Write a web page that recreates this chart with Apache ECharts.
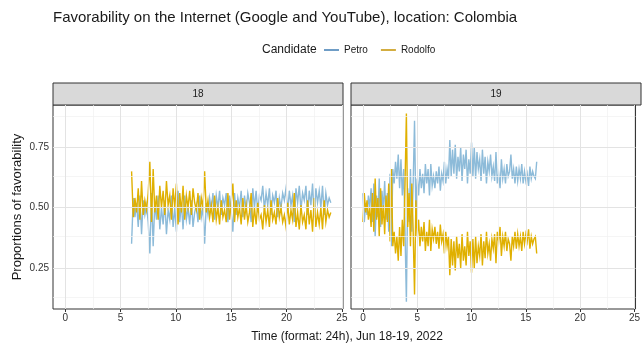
<!DOCTYPE html>
<html>
<head>
<meta charset="utf-8">
<script src="https://cdn.jsdelivr.net/npm/echarts@6/dist/echarts.min.js"></script>
<style>
html,body{margin:0;padding:0;background:#fff;}
#chart{width:643px;height:346px;}
</style>
</head>
<body>
<div id="chart"></div>
<script>
// ---- data ----
const panels = ['18', '19'];
const seriesNames = ['Petro', 'Rodolfo'];
const xTicks = [0, 5, 10, 15, 20, 25];
const xMinor = [2.5, 7.5, 12.5, 17.5, 22.5];
const yTicks = [0.25, 0.5, 0.75];
const yMinor = [0.125, 0.375, 0.625, 0.875];

// Jun 18: readings from 06:00 to 24:00 every 0.15 h
const start18 = 6, step18 = 0.15;
const petro18 = [
0.35,0.54,0.46,0.52,0.42,0.55,0.39,0.53,0.47,0.51,
0.44,0.31,0.56,0.34,0.52,0.45,0.55,0.41,0.50,0.43,
0.53,0.39,0.49,0.45,0.55,0.42,0.50,0.40,0.57,0.44,
0.52,0.41,0.55,0.45,0.50,0.43,0.53,0.42,0.48,0.51,
0.44,0.55,0.46,0.50,0.35,0.52,0.47,0.54,0.49,0.56,
0.45,0.55,0.50,0.57,0.47,0.54,0.51,0.56,0.44,0.55,
0.48,0.40,0.56,0.47,0.54,0.50,0.57,0.46,0.55,0.49,
0.56,0.52,0.44,0.58,0.50,0.57,0.48,0.55,0.53,0.59,
0.49,0.56,0.51,0.58,0.47,0.55,0.52,0.57,0.46,0.54,
0.50,0.56,0.53,0.58,0.48,0.57,0.51,0.55,0.44,0.58,
0.52,0.59,0.49,0.56,0.53,0.59,0.47,0.57,0.51,0.60,
0.46,0.58,0.52,0.57,0.50,0.59,0.47,0.56,0.51,0.54,
0.52];
const rodolfo18 = [
0.65,0.46,0.54,0.48,0.58,0.45,0.61,0.47,0.53,0.49,
0.56,0.69,0.44,0.66,0.48,0.55,0.45,0.59,0.50,0.57,
0.47,0.61,0.51,0.55,0.45,0.58,0.50,0.60,0.43,0.56,
0.48,0.59,0.45,0.55,0.50,0.57,0.47,0.58,0.52,0.49,
0.56,0.45,0.54,0.50,0.65,0.48,0.53,0.46,0.51,0.44,
0.55,0.45,0.50,0.43,0.53,0.46,0.49,0.44,0.56,0.45,
0.52,0.60,0.44,0.53,0.46,0.50,0.43,0.54,0.45,0.51,
0.44,0.48,0.56,0.42,0.50,0.43,0.52,0.45,0.47,0.41,
0.51,0.44,0.49,0.42,0.53,0.45,0.48,0.43,0.54,0.46,
0.50,0.44,0.47,0.42,0.52,0.43,0.49,0.45,0.56,0.42,
0.48,0.41,0.51,0.44,0.47,0.41,0.53,0.43,0.49,0.40,
0.54,0.42,0.48,0.43,0.50,0.41,0.53,0.44,0.49,0.46,
0.48];

// Jun 19: readings from 00:00 to 16:00 every 0.125 h
const start19 = 0, step19 = 0.125;
const petro19 = [
0.56,0.44,0.52,0.47,0.55,0.50,0.58,0.44,0.60,0.38,
0.55,0.46,0.62,0.42,0.57,0.49,0.61,0.45,0.56,0.40,
0.64,0.34,0.66,0.60,0.69,0.62,0.72,0.58,0.70,0.55,
0.66,0.40,0.11,0.58,0.44,0.66,0.40,0.60,0.86,0.47,
0.62,0.55,0.66,0.58,0.64,0.56,0.68,0.60,0.66,0.55,
0.68,0.59,0.63,0.58,0.65,0.60,0.67,0.57,0.64,0.61,
0.69,0.60,0.66,0.62,0.78,0.63,0.74,0.64,0.76,0.62,
0.71,0.65,0.75,0.61,0.72,0.66,0.74,0.60,0.70,0.64,
0.77,0.63,0.75,0.62,0.73,0.66,0.70,0.61,0.74,0.64,
0.71,0.60,0.69,0.65,0.72,0.63,0.67,0.61,0.73,0.60,
0.64,0.58,0.70,0.62,0.66,0.60,0.68,0.63,0.65,0.72,
0.62,0.66,0.60,0.67,0.61,0.66,0.62,0.68,0.60,0.65,
0.61,0.64,0.59,0.67,0.62,0.65,0.63,0.62,0.69];
const rodolfo19 = [
0.44,0.56,0.48,0.53,0.45,0.50,0.42,0.56,0.40,0.62,
0.45,0.54,0.38,0.58,0.43,0.51,0.39,0.55,0.44,0.60,
0.36,0.66,0.34,0.40,0.31,0.38,0.28,0.42,0.30,0.45,
0.34,0.60,0.89,0.42,0.56,0.34,0.60,0.40,0.14,0.53,
0.38,0.45,0.34,0.42,0.36,0.44,0.32,0.40,0.34,0.45,
0.32,0.41,0.37,0.42,0.35,0.40,0.33,0.43,0.36,0.39,
0.31,0.40,0.34,0.38,0.22,0.37,0.26,0.36,0.24,0.38,
0.29,0.35,0.25,0.39,0.28,0.34,0.26,0.40,0.30,0.36,
0.23,0.37,0.25,0.38,0.27,0.34,0.30,0.39,0.26,0.36,
0.29,0.40,0.31,0.35,0.28,0.37,0.33,0.39,0.27,0.40,
0.36,0.42,0.30,0.38,0.34,0.40,0.32,0.37,0.35,0.28,
0.38,0.34,0.40,0.33,0.39,0.34,0.38,0.32,0.40,0.35,
0.39,0.36,0.41,0.33,0.38,0.35,0.37,0.38,0.31];

// ---- build ----
function pairs(start, step, vals) {
  return vals.map((v, i) => [start + i * step, v]);
}
const FONT = "'Liberation Sans', Arial, sans-serif";
const NARROW = "'Liberation Sans Narrow', 'Liberation Sans', Arial, sans-serif";
const colPetro = '#8dbbd9', colRod = '#e0b000';
const legPetro = '#3f7db3', legRod = '#c59200';
const LW = 1.4;

const grids = [
  {left: 53, top: 105, width: 290, height: 204},
  {left: 351, top: 105, width: 290, height: 204}
];

function gridLineSeries(i) {
  const major = {color: '#e3e3e3', width: 1, type: 'solid'};
  const minor = {color: '#f0f0f0', width: 0.7, type: 'solid'};
  const data = [];
  xMinor.forEach(v => data.push({xAxis: v, lineStyle: minor}));
  yMinor.forEach(v => data.push({yAxis: v, lineStyle: minor}));
  xTicks.forEach(v => data.push({xAxis: v, lineStyle: major}));
  yTicks.forEach(v => data.push({yAxis: v, lineStyle: major}));
  return {
    type: 'line', xAxisIndex: i, yAxisIndex: i, data: [], silent: true, z: 1,
    markLine: {silent: true, symbol: 'none', animation: false, label: {show: false}, data: data}
  };
}

function lineSeries(name, gi, color, z, data) {
  return {name: name, type: 'line', xAxisIndex: gi, yAxisIndex: gi, showSymbol: false, symbol: 'none', z: z,
    lineStyle: {color: color, width: LW, join: 'miter'}, itemStyle: {color: color}, data: data};
}

const chart = echarts.init(document.getElementById('chart'), null, {renderer: 'canvas'});
const option = {
  animation: false,
  backgroundColor: '#fff',
  textStyle: {fontFamily: FONT},
  title: {
    text: 'Favorability on the Internet (Google and YouTube), location: Colombia',
    left: 53, top: 10, padding: 0,
    textStyle: {fontSize: 15, fontWeight: 'normal', color: '#1a1a1a', fontFamily: FONT}
  },
  legend: {
    left: 324, top: 45, padding: 0,
    icon: 'rect', itemWidth: 15, itemHeight: 1.5, itemGap: 13,
    textStyle: {fontSize: 10, color: '#1a1a1a', fontFamily: NARROW},
    data: [
      {name: 'Petro', itemStyle: {color: legPetro}},
      {name: 'Rodolfo', itemStyle: {color: legRod}}
    ]
  },
  grid: grids.map(g => Object.assign({show: true, borderColor: '#333', borderWidth: 1, backgroundColor: '#fff'}, g)),
  xAxis: [0, 1].map(i => ({
    gridIndex: i, type: 'value', min: -1.1, max: 25.1,
    axisLine: {show: false}, splitLine: {show: false},
    axisTick: {show: true, customValues: xTicks, length: 3, lineStyle: {color: '#333'}},
    axisLabel: {customValues: xTicks, fontSize: 10, color: '#333', margin: 4, fontFamily: FONT}
  })),
  yAxis: [0, 1].map(i => ({
    gridIndex: i, type: 'value', min: 0.08, max: 0.925,
    axisLine: {show: false}, splitLine: {show: false},
    axisTick: {show: i === 0, customValues: yTicks, length: 3, lineStyle: {color: '#333'}},
    axisLabel: {show: i === 0, customValues: yTicks, fontSize: 10, color: '#333', margin: 4,
      fontFamily: FONT, formatter: v => v.toFixed(2)}
  })),
  series: [
    gridLineSeries(0),
    gridLineSeries(1),
    lineSeries('Petro', 0, colPetro, 3, pairs(start18, step18, petro18)),
    lineSeries('Rodolfo', 0, colRod, 4, pairs(start18, step18, rodolfo18)),
    lineSeries('Petro', 1, colPetro, 3, pairs(start19, step19, petro19)),
    lineSeries('Rodolfo', 1, colRod, 4, pairs(start19, step19, rodolfo19))
  ],
  graphic: [
    {type: 'text', left: 262, top: 44, style: {text: 'Candidate', fontSize: 12, fill: '#1a1a1a', fontFamily: FONT}},
    {type: 'rect', shape: {x: 53, y: 83, width: 290, height: 22}, style: {fill: '#d9d9d9', stroke: '#333', lineWidth: 1}},
    {type: 'text', x: 198, y: 94, style: {text: panels[0], fontSize: 10, fill: '#1a1a1a', align: 'center', verticalAlign: 'middle', fontFamily: FONT}},
    {type: 'rect', shape: {x: 351, y: 83, width: 290, height: 22}, style: {fill: '#d9d9d9', stroke: '#333', lineWidth: 1}},
    {type: 'text', x: 496, y: 94, style: {text: panels[1], fontSize: 10, fill: '#1a1a1a', align: 'center', verticalAlign: 'middle', fontFamily: FONT}},
    {type: 'text', x: 17, y: 207, rotation: Math.PI / 2,
      style: {text: 'Proportions of favorability', fontSize: 13, fill: '#1a1a1a', align: 'center', verticalAlign: 'middle', fontFamily: FONT}},
    {type: 'text', x: 347, y: 337,
      style: {text: 'Time (format: 24h), Jun 18-19, 2022', fontSize: 12, fill: '#1a1a1a', align: 'center', verticalAlign: 'middle', fontFamily: FONT}}
  ]
};
chart.setOption(option);
</script>
</body>
</html>
